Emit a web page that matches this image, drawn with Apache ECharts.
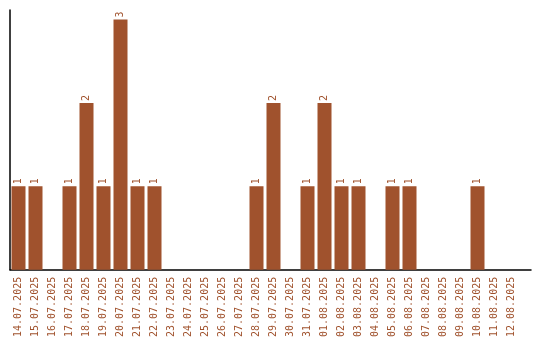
<!DOCTYPE html>
<html>
<head>
<meta charset="utf-8">
<script src="https://cdn.jsdelivr.net/npm/echarts@6/dist/echarts.min.js"></script>
<style>html,body{margin:0;padding:0;background:#fff}#c{width:540px;height:340px}</style>
</head>
<body>
<div id="c"></div>
<script>
var categories = ["14.07.2025","15.07.2025","16.07.2025","17.07.2025","18.07.2025","19.07.2025","20.07.2025","21.07.2025","22.07.2025","23.07.2025","24.07.2025","25.07.2025","26.07.2025","27.07.2025","28.07.2025","29.07.2025","30.07.2025","31.07.2025","01.08.2025","02.08.2025","03.08.2025","04.08.2025","05.08.2025","06.08.2025","07.08.2025","08.08.2025","09.08.2025","10.08.2025","11.08.2025","12.08.2025"];
var values = [1,1,0,1,2,1,3,1,1,0,0,0,0,0,1,2,0,1,2,1,1,0,1,1,0,0,0,1,0,0];
var yMax = 3.114;

var color = '#A0522D';
var font = 'DejaVu Sans Mono';
var chart = echarts.init(document.getElementById('c'));
chart.setOption({
  animation: false,
  grid: [
    {left: 10, top: 10, width: 510, height: 260},
    {left: 10, top: 10, width: 521, height: 260}
  ],
  xAxis: [
    {
      type: 'category', gridIndex: 0, data: categories,
      axisLine: {show: false}, axisTick: {show: false},
      axisLabel: {interval: 0, rotate: 90, color: color, fontFamily: font, fontSize: 10, margin: 7}
    },
    {
      type: 'value', gridIndex: 1, min: 0, max: 1,
      axisLine: {show: true, onZero: false, lineStyle: {color: '#000', width: 1.5}},
      axisTick: {show: false}, axisLabel: {show: false}, splitLine: {show: false}
    }
  ],
  yAxis: [
    {
      type: 'value', gridIndex: 0, min: 0, max: yMax,
      axisLine: {show: true, lineStyle: {color: '#000', width: 1.5}},
      axisTick: {show: false}, axisLabel: {show: false}, splitLine: {show: false}
    },
    {
      type: 'value', gridIndex: 1, min: 0, max: 1, show: false
    }
  ],
  series: [{
    type: 'bar', xAxisIndex: 0, yAxisIndex: 0,
    data: values.map(function(v){ return v === 0 ? null : v; }),
    barWidth: 14,
    itemStyle: {color: color},
    label: {
      show: true, position: 'top', rotate: 90, align: 'left', verticalAlign: 'middle',
      distance: 2, color: color, fontFamily: font, fontSize: 10
    }
  }]
});
</script>
</body>
</html>
